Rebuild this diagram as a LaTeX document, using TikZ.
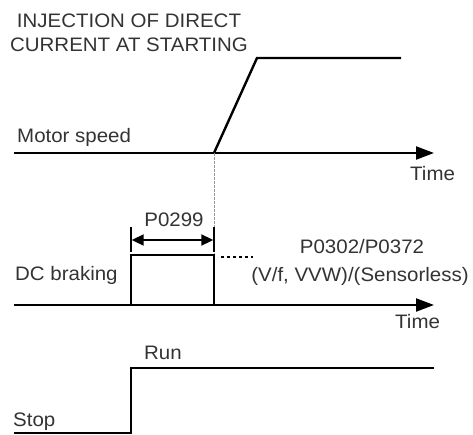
\documentclass[tikz,border=0pt]{standalone}
\usepackage{fontspec}
\setmainfont[FakeStretch=1.05]{Liberation Sans}
\usetikzlibrary{arrows.meta}
\definecolor{txt}{HTML}{333333}
\definecolor{dotc}{HTML}{999999}
\tikzset{
  lbl/.style={inner sep=0pt, text=txt, font=\fontsize{19.5}{24}\selectfont},
  sig/.style={line width=2.4pt, line join=miter},
  axis/.style={line width=2.2pt, -{Triangle[length=18pt,width=13pt]}},
  dimarrow/.style={line width=2pt, {Triangle[length=12pt,width=11pt]}-{Triangle[length=12pt,width=11pt]}},
  bar/.style={line width=1.4pt},
  guide/.style={line width=1pt, dotc, dash pattern=on 2.5pt off 1.5pt},
  hdots/.style={line width=1.8pt, dash pattern=on 3pt off 3pt}
}
\begin{document}
\begin{tikzpicture}[x=1pt,y=-1pt]
\useasboundingbox (0,0) rectangle (473,434);
% title
\node[lbl, anchor=base] (t1) at (129,27) {INJECTION OF DIRECT};
\node[lbl, anchor=base] (t2) at (129,51.5) {CURRENT AT STARTING};
% motor speed
\coordinate (sa0) at (14,153);
\coordinate (sa1) at (434,153);
\coordinate (s0) at (214,153);
\coordinate (s1) at (257,58);
\coordinate (s2) at (401,58);
\node[lbl, anchor=base west] (ms) at (17,142) {Motor speed};
\node[lbl, anchor=base west] (time1) at (410,180) {Time};
\draw[axis] (sa0) -- (sa1);
\draw[sig] (s0) -- (s1) -- (s2);
% guide
\coordinate (g0) at (214,153);
\coordinate (g1) at (214,255);
\draw[guide] (g0) -- (g1);
% DC braking
\coordinate (da0) at (14,305);
\coordinate (da1) at (434,305);
\coordinate (r0) at (131,305);
\coordinate (r1) at (131,255);
\coordinate (r2) at (214,255);
\coordinate (r3) at (214,305);
\draw[axis] (da0) -- (da1);
\draw[sig] (r0) -- (r1) -- (r2) -- (r3);
\coordinate (b0t) at (131,227);
\coordinate (b0b) at (131,252);
\coordinate (b1t) at (214,227);
\coordinate (b1b) at (214,252);
\draw[bar] (b0t) -- (b0b);
\draw[bar] (b1t) -- (b1b);
\coordinate (p0) at (131.7,240);
\coordinate (p1) at (213.3,240);
\draw[dimarrow] (p0) -- (p1);
\node[lbl, anchor=base] (p299) at (174,226.5) {P0299};
\coordinate (h0) at (221,257);
\coordinate (h1) at (253,257);
\draw[hdots] (h0) -- (h1);
\node[lbl, anchor=base] (p302) at (362,253) {P0302/P0372};
\node[lbl, anchor=base] (p302b) at (360,281) {(V/f, VVW)/(Sensorless)};
\node[lbl, anchor=base west] (dcb) at (15,280) {DC braking};
\node[lbl, anchor=base west] (time2) at (395,328) {Time};
% run/stop
\coordinate (c0) at (14,433);
\coordinate (c1) at (131,433);
\coordinate (c2) at (131,368);
\coordinate (c3) at (434,368);
\draw[sig] (c0) -- (c1) -- (c2) -- (c3);
\node[lbl, anchor=base west] (run) at (144,359) {Run};
\node[lbl, anchor=base west] (stop) at (13,426) {Stop};
\end{tikzpicture}
\end{document}
